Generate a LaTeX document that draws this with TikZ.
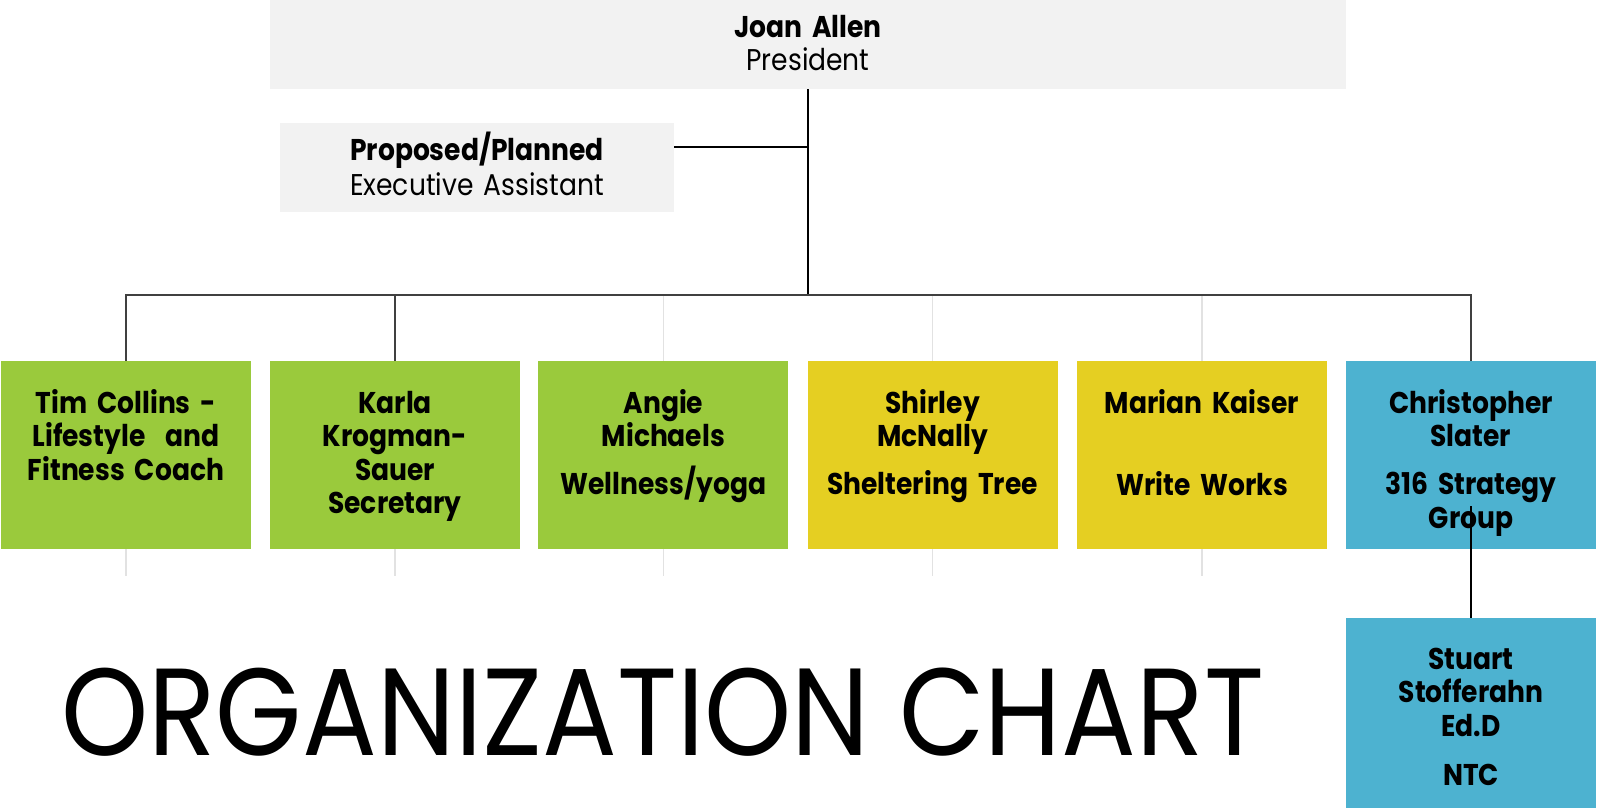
\documentclass[tikz,border=0pt]{standalone}
\usepackage{fontspec}
\setmainfont{Poppins}
\newfontfamily\boxfont[FakeStretch=0.885]{Poppins}
\newfontfamily\titlefont[FakeStretch=0.895]{Poppins}
\definecolor{topgray}{HTML}{F2F2F2}
\definecolor{cgreen}{HTML}{9ACA3C}
\definecolor{cyellow}{HTML}{E5CF22}
\definecolor{cblue}{HTML}{4DB2D0}
\definecolor{linedark}{HTML}{404040}
\definecolor{linefaint}{HTML}{E2E2E2}
\begin{document}
\begin{tikzpicture}[x=1pt,y=-1pt,
  box/.style={minimum width=250pt,minimum height=188pt,inner sep=0pt,draw=none},
  hdbox/.style={inner sep=0pt,draw=none,fill=topgray},
  lbl/.style={anchor=base,inner sep=0pt,text width=240pt,align=center,font=\boxfont\bfseries\fontsize{30}{33.5}\selectfont},
  hlbl/.style={anchor=base,inner sep=0pt,text width=380pt,align=center,font=\boxfont\fontsize{30}{34}\selectfont},
  conn/.style={draw=linedark,line width=1.3pt},
  connk/.style={draw=black,line width=1.5pt},
  faint/.style={draw=linefaint,line width=1.3pt}]
\useasboundingbox (0,0) rectangle (1599,808);
% header boxes
\node[hdbox,minimum width=1076pt,minimum height=89pt] (joan) at (808,44.5) {};
\node[hlbl,font=\boxfont\fontsize{30}{33.4}\selectfont] (joant) at (808,37.3) {{\bfseries Joan Allen}\\President};
\node[hdbox,minimum width=394pt,minimum height=89pt] (exec) at (477,167.5) {};
\node[hlbl,font=\boxfont\fontsize{30}{34.3}\selectfont] (exect) at (477,160.7) {{\bfseries Proposed/Planned}\\Executive Assistant};
% child boxes
\node[box,fill=cgreen] (c1) at (126,455) {};
\node[box,fill=cgreen] (c2) at (395,455) {};
\node[box,fill=cgreen] (c3) at (663.4,455) {};
\node[box,fill=cyellow] (c4) at (932.6,455) {};
\node[box,fill=cyellow] (c5) at (1202,455) {};
\node[box,fill=cblue] (c6) at (1471,455) {};
\node[box,fill=cblue,minimum height=190pt] (c7) at (1471,713) {};
\node[lbl] (t1) at (126,413) {Tim Collins -\\Lifestyle~ and\\Fitness Coach};
\node[lbl] (t2) at (395,413) {Karla\\Krogman-\\Sauer\\Secretary};
\node[lbl] (t3) at (663.4,413) {Angie\\Michaels\\[14.8pt]Wellness/yoga};
\node[lbl] (t4) at (932.6,413) {Shirley\\McNally\\[14.8pt]Sheltering Tree};
\node[lbl] (t5) at (1202,413) {Marian Kaiser\\[48.8pt]Write Works};
\node[lbl] (t6) at (1471,413) {Christopher\\Slater\\[14.8pt]316 Strategy\\Group};
\node[lbl] (t7) at (1471,669) {Stuart\\Stofferahn\\Ed.D\\[15.5pt]NTC};
% connectors
\coordinate (bus) at (808,295);
\coordinate (c6s) at (1471,506);
\draw[faint] (c3.north) -- (c3.north |- bus);
\draw[faint] (c4.north) -- (c4.north |- bus);
\draw[faint] (c5.north) -- (c5.north |- bus);
\foreach \n in {c1,c2,c3,c4,c5} {\draw[faint] (\n.south) -- ++(0,27);}
\draw[connk] (joan.south) -- (bus);
\draw[connk] ([yshift=20.5pt]exec.east) -- ([yshift=20.5pt]exec.east -| joan.south);
\draw[conn] (bus) -| (c1.north);
\draw[conn] (c2.north |- bus) -- (c2.north);
\draw[conn] (bus) -| (c6.north);
\draw[connk] (c6s) -- (c7.north);
% title
\node[anchor=base west,inner sep=0pt,font=\titlefont\fontsize{124}{124}\selectfont] (title) at (61,755) {ORGANIZATION CHART};
\end{tikzpicture}
\end{document}
